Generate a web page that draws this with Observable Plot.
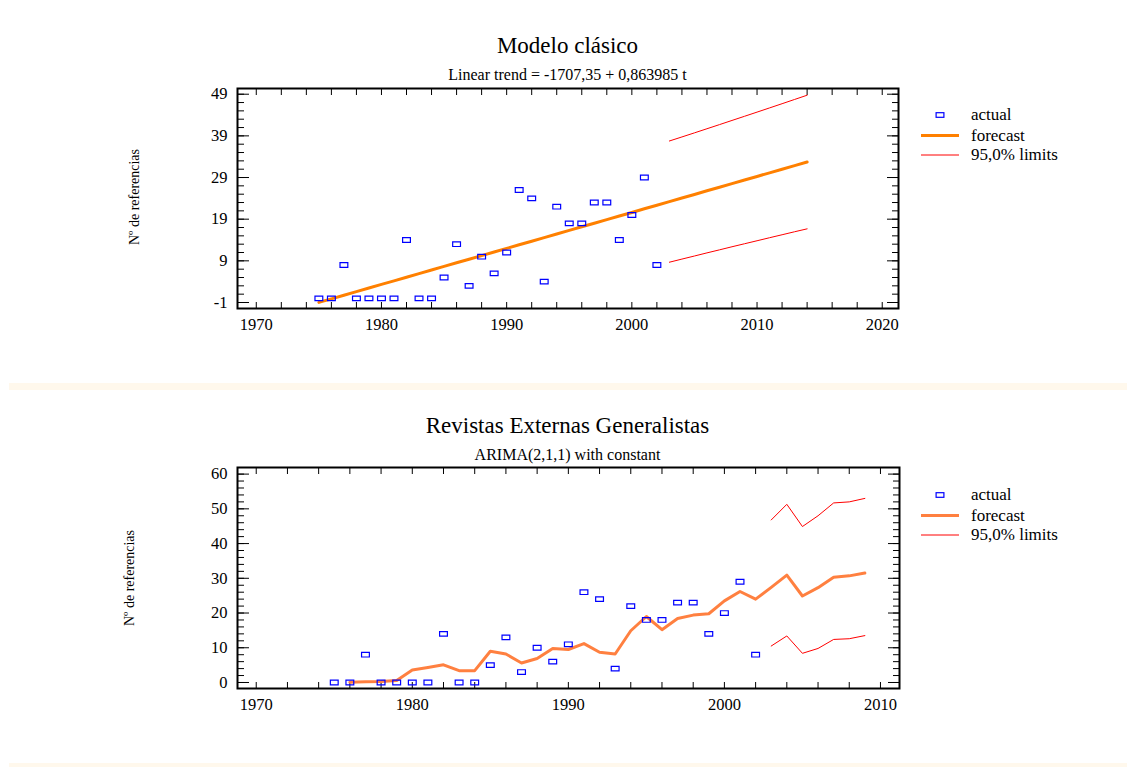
<!DOCTYPE html>
<html><head><meta charset="utf-8">
<script src="https://cdn.jsdelivr.net/npm/d3@7"></script>
<script src="https://cdn.jsdelivr.net/npm/@observablehq/plot@0.6"></script>
<style>
body{margin:0;background:#fff;}
#wrap{position:relative;width:1127px;height:767px;overflow:hidden;font-family:"Liberation Serif","Times New Roman",serif;color:#000;background:#fff;}
.title{position:absolute;left:237px;width:661px;text-align:center;white-space:nowrap;line-height:1;}
.ylab{position:absolute;white-space:nowrap;font-size:14px;line-height:1;transform:translate(-50%,-50%) rotate(-90deg);}
.strip{position:absolute;left:9px;right:0;background:#FFF8EC;}
.plot{position:absolute;left:0;}
.legend{position:absolute;left:900px;}
</style></head><body><div id="wrap">
<div class="strip" style="top:383px;height:7px;"></div>
<div class="strip" style="top:763px;height:4px;"></div>
<div class="title" style="top:34px;font-size:23px;">Modelo clásico</div>
<div class="title" style="top:67px;font-size:16px;">Linear trend = -1707,35 + 0,863985 t</div>
<div class="title" style="top:414px;font-size:23px;">Revistas Externas Generalistas</div>
<div class="title" style="top:447px;font-size:16px;">ARIMA(2,1,1) with constant</div>
<div class="ylab" style="left:135px;top:197px;">Nº de referencias</div>
<div class="ylab" style="left:130px;top:578px;">Nº de referencias</div>
</div>
<script>
// ---- shared observed data ----
const actualYears = [1975,1976,1977,1978,1979,1980,1981,1982,1983,1984,1985,1986,1987,1988,1989,1990,1991,1992,1993,1994,1995,1996,1997,1998,1999,2000,2001,2002];
const actualValues = [0,0,8,0,0,0,0,14,0,0,5,13,3,10,6,11,26,24,4,22,18,18,23,23,14,20,29,8];

// ---- top chart: linear trend ----
const trendYears = [1975,1976,1977,1978,1979,1980,1981,1982,1983,1984,1985,1986,1987,1988,1989,1990,1991,1992,1993,1994,1995,1996,1997,1998,1999,2000,2001,2002,2003,2004,2005,2006,2007,2008,2009,2010,2011,2012,2013,2014];
const trendValues = [-0.98,-0.12,0.75,1.61,2.48,3.34,4.20,5.07,5.93,6.80,7.66,8.53,9.39,10.25,11.12,11.98,12.85,13.71,14.57,15.44,16.30,17.17,18.03,18.90,19.76,20.62,21.49,22.35,23.22,24.08,24.94,25.81,26.67,27.54,28.40,29.26,30.13,30.99,31.86,32.72];
const trendLimitYears = [2003,2004,2005,2006,2007,2008,2009,2010,2011,2012,2013,2014];
const trendUpper = [37.77,38.74,39.72,40.71,41.70,42.70,43.70,44.70,45.71,46.72,47.74,48.76];
const trendLower = [8.67,9.42,10.16,10.91,11.64,12.38,13.10,13.82,14.55,15.26,15.98,16.68];
const topYTicks = [-1,9,19,29,39,49];
const topYMinor = [-1,1,3,5,7,9,11,13,15,17,19,21,23,25,27,29,31,33,35,37,39,41,43,45,47,49];
const topXTicks = [1970,1980,1990,2000,2010,2020];
const topXMinor = [1970,1972,1974,1976,1978,1980,1982,1984,1986,1988,1990,1992,1994,1996,1998,2000,2002,2004,2006,2008,2010,2012,2014,2016,2018,2020];

// ---- bottom chart: ARIMA(2,1,1) ----
const arimaYears = [1976,1977,1978,1979,1980,1981,1982,1983,1984,1985,1986,1987,1988,1989,1990,1991,1992,1993,1994,1995,1996,1997,1998,1999,2000,2001,2002,2003,2004,2005,2006,2007,2008,2009];
const arimaValues = [0.1,0.2,0.3,0.6,3.6,4.3,5.1,3.4,3.4,9.0,8.2,5.6,6.9,9.8,9.5,11.2,8.7,8.2,14.9,19.0,15.2,18.4,19.4,19.8,23.5,26.2,24.0,27.4,30.9,24.9,27.3,30.3,30.7,31.5];
const arimaLimitYears = [2003,2004,2005,2006,2007,2008,2009];
const arimaUpper = [46.8,51.3,44.9,48.0,51.7,52.0,53.0];
const arimaLower = [10.5,13.4,8.4,9.8,12.4,12.6,13.5];
const botYTicks = [0,10,20,30,40,50,60];
const botYMinor = [0,2,4,6,8,10,12,14,16,18,20,22,24,26,28,30,32,34,36,38,40,42,44,46,48,50,52,54,56,58,60];
const botXTicks = [1970,1980,1990,2000,2010];
const botXMinor = [1970,1972,1974,1976,1978,1980,1982,1984,1986,1988,1990,1992,1994,1996,1998,2000,2002,2004,2006,2008,2010];

const legendLabels = ["actual","forecast","95,0% limits"];

const pts = (xs, ys) => xs.map((x, i) => ({x, y: ys[i]}));
const rectSymbol = {draw(ctx){ ctx.rect(-3.9, -2.3, 7.8, 4.6); }};
const fmt = d => String(d);

function makeChart(cfg){
  const noText = {fill: "none", label: null};
  return Plot.plot({
    width: 1127, height: cfg.height,
    marginLeft: 237, marginRight: cfg.mr, marginTop: cfg.mt, marginBottom: cfg.mb,
    x: {domain: cfg.xDomain},
    y: {domain: cfg.yDomain},
    style: {fontFamily: '"Liberation Serif","Times New Roman",serif', fontSize: "16.5px", background: "transparent", color: "#000", overflow: "visible"},
    marks: [
      Plot.axisX({anchor: "bottom", ticks: cfg.xTicks, tickSize: 0, tickPadding: 10, tickFormat: fmt, label: null}),
      Plot.axisX({anchor: "bottom", ticks: cfg.xMinor, tickSize: -6, ...noText}),
      Plot.axisX({anchor: "top", ticks: cfg.xMinor, tickSize: -6, ...noText}),
      Plot.axisY({anchor: "left", ticks: cfg.yTicks, tickSize: 0, tickPadding: 10, tickFormat: fmt, label: null}),
      Plot.axisY({anchor: "left", ticks: cfg.yTicks, tickSize: -12, ...noText}),
      Plot.axisY({anchor: "right", ticks: cfg.yTicks, tickSize: -12, ...noText}),
      Plot.axisY({anchor: "left", ticks: cfg.yMinor, tickSize: -7, ...noText}),
      Plot.axisY({anchor: "right", ticks: cfg.yMinor, tickSize: -7, ...noText}),
      Plot.line(pts(cfg.limYears, cfg.upper), {x: "x", y: "y", stroke: "#FF0000", strokeWidth: 1}),
      Plot.line(pts(cfg.limYears, cfg.lower), {x: "x", y: "y", stroke: "#FF0000", strokeWidth: 1}),
      Plot.line(pts(cfg.fYears, cfg.fValues), {x: "x", y: "y", stroke: cfg.fColor, strokeWidth: 3}),
      Plot.dot(pts(actualYears, actualValues), {x: "x", y: "y", symbol: rectSymbol, stroke: "#0000FF", fill: "none", strokeWidth: 1.2}),
      Plot.frame({stroke: "#000", strokeWidth: 2})
    ]
  });
}

const wrap = document.getElementById("wrap");

const topChart = makeChart({height: 383, mt: 88, mb: 75, mr: 229,
  xDomain: [1968.5, 2021.3], yDomain: [-2.44, 50.37],
  xTicks: topXTicks, xMinor: topXMinor, yTicks: topYTicks, yMinor: topYMinor,
  limYears: trendLimitYears, upper: trendUpper, lower: trendLower,
  fYears: trendYears, fValues: trendValues, fColor: "#FF8000"});
topChart.classList.add("plot"); topChart.style.top = "0px";
wrap.appendChild(topChart);

const botChart = makeChart({height: 373, mt: 77, mb: 75, mr: 228,
  xDomain: [1968.8, 2011.22], yDomain: [-1.73, 61.9],
  xTicks: botXTicks, xMinor: botXMinor, yTicks: botYTicks, yMinor: botYMinor,
  limYears: arimaLimitYears, upper: arimaUpper, lower: arimaLower,
  fYears: arimaYears, fValues: arimaValues, fColor: "#FF8040"});
botChart.classList.add("plot"); botChart.style.top = "390px";
wrap.appendChild(botChart);

// legends
function legend(topPx, fColor){
  const ns = "http://www.w3.org/2000/svg";
  const svg = document.createElementNS(ns, "svg");
  svg.setAttribute("width", 200); svg.setAttribute("height", 70);
  svg.setAttribute("class", "legend");
  svg.style.top = topPx + "px";
  svg.style.fontFamily = '"Liberation Serif","Times New Roman",serif';
  svg.style.fontSize = "17px";
  const rows = [10, 30.5, 50];
  const r = document.createElementNS(ns, "rect");
  r.setAttribute("x", 36.1); r.setAttribute("y", rows[0]-2.3); r.setAttribute("width", 7.8); r.setAttribute("height", 4.6);
  r.setAttribute("fill", "none"); r.setAttribute("stroke", "#0000FF"); r.setAttribute("stroke-width", 1.2);
  svg.appendChild(r);
  [[fColor, 3, rows[1]], ["#FF0000", 1, rows[2]]].forEach(([c, w, y]) => {
    const l = document.createElementNS(ns, "line");
    l.setAttribute("x1", 21); l.setAttribute("x2", 59); l.setAttribute("y1", y); l.setAttribute("y2", y);
    l.setAttribute("stroke", c); l.setAttribute("stroke-width", w);
    svg.appendChild(l);
  });
  legendLabels.forEach((t, i) => {
    const tx = document.createElementNS(ns, "text");
    tx.setAttribute("x", 71); tx.setAttribute("y", rows[i]); tx.setAttribute("dy", "0.32em");
    tx.textContent = t;
    svg.appendChild(tx);
  });
  wrap.appendChild(svg);
}
legend(105, "#FF8000");
legend(485, "#FF8040");
</script>
</body></html>
